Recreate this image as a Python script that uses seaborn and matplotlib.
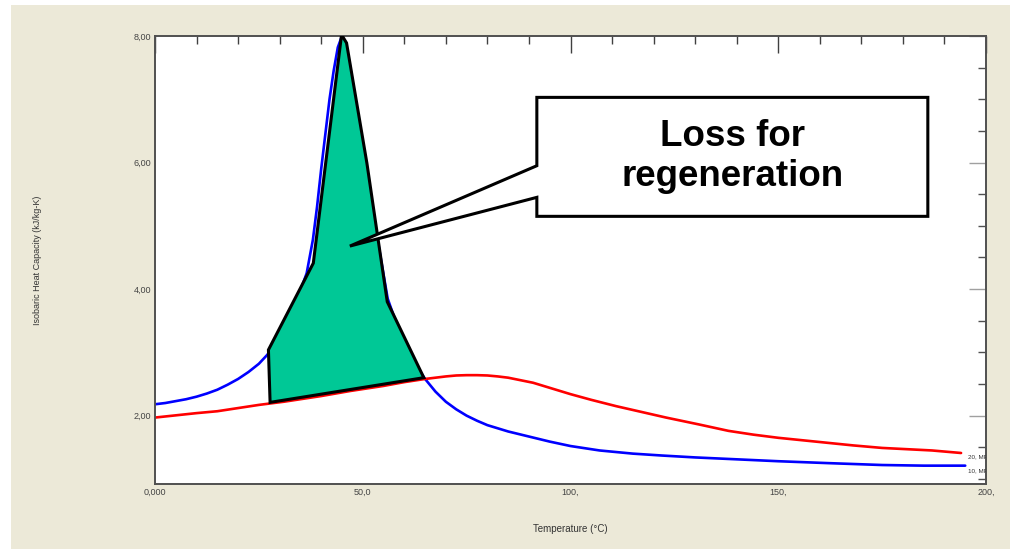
import matplotlib
matplotlib.use("Agg")
import numpy as np
import pandas as pd
import matplotlib.pyplot as plt
from matplotlib.patches import Polygon, Rectangle
from matplotlib.ticker import FixedLocator, MultipleLocator
import seaborn as sns

# Isobaric heat capacity of CO2 at two pressures
temp_10mpa = [0, 2.5, 5, 7.5, 10, 12.5, 15, 17.5, 20, 22.5, 25, 27, 29, 31,
              33, 35, 36.5, 38, 39, 40, 41, 42, 43, 44, 45, 46, 47, 48, 49,
              51, 53, 56, 60, 62.5, 65, 67.5, 70, 72.5, 75, 77.5, 80, 85,
              90, 95, 100, 107, 115, 122, 130, 140, 150, 162, 175, 185, 195]
cp_10mpa = [2.18, 2.20, 2.23, 2.26, 2.30, 2.35, 2.41, 2.49, 2.58, 2.69,
            2.82, 2.96, 3.14, 3.37, 3.65, 3.98, 4.25, 4.78, 5.30, 5.90,
            6.45, 7.00, 7.45, 7.82, 8.00, 7.85, 7.50, 7.10, 6.70, 5.90,
            5.00, 3.85, 3.10, 2.82, 2.58, 2.38, 2.22, 2.10, 2.00, 1.92,
            1.85, 1.75, 1.67, 1.59, 1.52, 1.45, 1.40, 1.37, 1.34, 1.31,
            1.28, 1.25, 1.22, 1.21, 1.21]

temp_20mpa = [0, 10, 15, 20, 25, 31, 40, 47, 55, 60, 65, 67.5, 70, 72.5,
              75, 77.5, 80, 82.5, 85, 88, 91, 95, 100, 105, 111, 117, 123,
              131, 138, 144, 150, 156, 162, 168, 175, 181, 187, 194]
cp_20mpa = [1.97, 2.04, 2.07, 2.12, 2.17, 2.22, 2.31, 2.39, 2.47, 2.53,
            2.58, 2.60, 2.62, 2.635, 2.64, 2.64, 2.635, 2.62, 2.60, 2.56,
            2.52, 2.44, 2.34, 2.25, 2.15, 2.06, 1.97, 1.86, 1.76, 1.70,
            1.65, 1.61, 1.57, 1.53, 1.49, 1.47, 1.45, 1.41]

pressure_labels = ["10, MPa", "20, MPa"]
pressure_colors = ["#0000FF", "#FF0000"]

x_ticks = [0, 50, 100, 150, 200]
x_tick_labels = ["0,000", "50,0", "100,", "150,", "200,"]
y_ticks = [2, 4, 6, 8]
y_tick_labels = ["2,00", "4,00", "6,00", "8,00"]

# Shaded region between the curves around the pseudo-critical peak
loss_T = [27.3, 27.7, 64.7, 55.9, 51.0, 46.1, 44.9, 38.1]
loss_cp = [3.04, 2.21, 2.60, 3.80, 5.99, 7.89, 8.02, 4.41]

callout_text = "Loss for\nregeneration"

sns.set_theme(style="white")
plt.rcParams["font.family"] = ["Liberation Sans", "DejaVu Sans"]

df = pd.concat([
    pd.DataFrame({"T": temp_10mpa, "cp": cp_10mpa, "p": pressure_labels[0]}),
    pd.DataFrame({"T": temp_20mpa, "cp": cp_20mpa, "p": pressure_labels[1]}),
], ignore_index=True)

W, H = 1013, 556
fig = plt.figure(figsize=(W / 100, H / 100), dpi=100, facecolor="white")
fig.patches.append(Rectangle((11 / W, 1 - 549 / H), (1010 - 11) / W, (549 - 5) / H,
                             transform=fig.transFigure, facecolor="#ECE9D8",
                             edgecolor="none", zorder=-10))

ax = fig.add_axes([155 / W, 1 - 484 / H, (986 - 155) / W, (484 - 36) / H])
ax.set_facecolor("white")

sns.lineplot(data=df, x="T", y="cp", hue="p",
             palette=dict(zip(pressure_labels, pressure_colors)),
             linewidth=1.9, sort=False, estimator=None, legend=False,
             ax=ax, zorder=2)

ax.set_xlim(0, 200)
ax.set_ylim(0.92, 8.0)

ax.xaxis.set_major_locator(FixedLocator(x_ticks))
ax.set_xticklabels(x_tick_labels)
ax.xaxis.set_minor_locator(MultipleLocator(10))
ax.yaxis.set_major_locator(FixedLocator(y_ticks))
ax.set_yticklabels(y_tick_labels)
ax.yaxis.set_minor_locator(MultipleLocator(0.5))

ax.tick_params(axis="both", which="both", direction="in", top=True, right=True,
               labelsize=6.5, labelcolor="#444444", pad=3)
ax.tick_params(axis="x", which="major", length=12, width=1.0, color="#404040")
ax.tick_params(axis="x", which="minor", length=5.5, width=1.0, color="#404040")
ax.tick_params(axis="y", which="major", length=12, width=1.0, color="#A0A0A0")
ax.tick_params(axis="y", which="minor", length=6, width=1.0, color="#505050")

for s in ax.spines.values():
    s.set_color("#505050")
    s.set_linewidth(1.4)

ax.set_xlabel("Temperature (°C)", fontsize=7, color="#333333", labelpad=19)
ax.set_ylabel("Isobaric Heat Capacity (kJ/kg-K)", fontsize=6.5, color="#333333",
              labelpad=66)

# curve end labels
ax.text(195.7, 1.35, "20, MPa", fontsize=4.5, color="#333333", va="center",
        ha="left", clip_on=True, zorder=3)
ax.text(195.7, 1.13, "10, MPa", fontsize=4.5, color="#333333", va="center",
        ha="left", clip_on=True, zorder=3)

# loss region
ax.add_patch(Polygon(np.column_stack([loss_T, loss_cp]), closed=True,
                     facecolor="#00C896", edgecolor="black", linewidth=2.2,
                     joinstyle="miter", zorder=3))

# callout box with pointer
bx0, bx1, by0, by1 = 91.9, 186.0, 5.15, 7.03
callout = [(bx0, by1), (bx1, by1), (bx1, by0), (bx0, by0), (bx0, 5.45),
           (46.9, 4.68), (bx0, 5.95)]
ax.add_patch(Polygon(callout, closed=True, facecolor="white", edgecolor="black",
                     linewidth=2.2, joinstyle="miter", zorder=4))
ax.text((bx0 + bx1) / 2, 6.1, callout_text, fontsize=26.5, fontweight="bold",
        ha="center", va="center", color="black", linespacing=1.2, zorder=5)

fig.savefig("out.png", dpi=100, facecolor="white")
